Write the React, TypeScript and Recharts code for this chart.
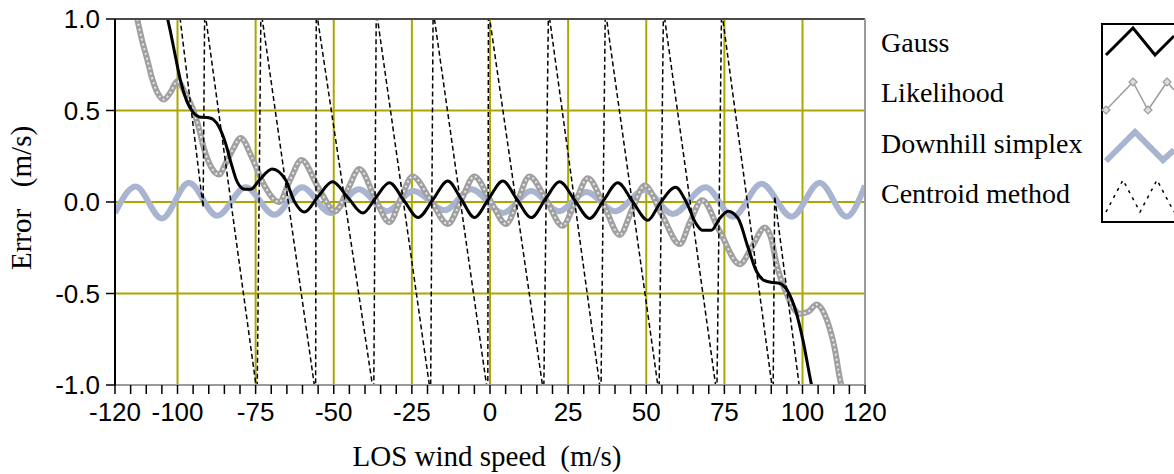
import { LineChart, Line, XAxis, YAxis, ReferenceLine } from "recharts";

// values (x = LOS wind speed m/s, y = error m/s)
const gaussX = [-104.0, -102.5, -100.6, -99.0, -97.0, -95.0, -93.0, -90.0, -88.5, -86.7, -84.6, -82.8, -80.9, -78.5, -76.5, -73.8, -69.7, -65.4, -62.5, -59.4, -55.0, -50.4, -45.5, -40.7, -36.5, -32.2, -27.6, -23.0, -18.2, -13.5, -9.2, -5.0, -0.5, 4.1, 8.6, 13.2, 17.7, 22.3, 27.1, 31.9, 36.4, 40.9, 45.7, 50.5, 54.3, 59.4, 62.8, 66.0, 68.0, 70.8, 73.5, 76.2, 79.4, 82.6, 85.3, 87.9, 90.5, 92.7, 95.4, 98.1, 100.2, 102.9, 104.0];
const gaussY = [1.06, 0.95, 0.79, 0.66, 0.55, 0.49, 0.465, 0.46, 0.45, 0.41, 0.32, 0.21, 0.11, 0.07, 0.07, 0.12, 0.18, 0.12, 0.0, -0.055, 0.03, 0.11, 0.025, -0.06, 0.025, 0.105, 0.01, -0.085, 0.015, 0.115, 0.015, -0.085, 0.015, 0.115, 0.015, -0.085, 0.015, 0.11, 0.01, -0.09, 0.01, 0.105, 0.0, -0.1, -0.01, 0.08, 0.0, -0.12, -0.155, -0.155, -0.09, -0.05, -0.09, -0.25, -0.38, -0.43, -0.44, -0.445, -0.49, -0.61, -0.76, -1.0, -1.08];

const likeX = [-114.0, -112.9, -111.3, -109.7, -108.2, -106.5, -104.4, -102.2, -100.1, -97.4, -94.7, -93.1, -91.5, -89.2, -86.7, -84.6, -82.2, -79.8, -76.1, -72.5, -67.5, -64.0, -60.3, -55.0, -49.5, -45.5, -41.8, -37.0, -32.2, -28.5, -24.8, -19.0, -13.5, -9.2, -5.0, 0.0, 5.2, 8.9, 12.6, 18.0, 23.2, 27.3, 31.3, 36.5, 41.5, 45.5, 49.5, 55.0, 60.7, 64.0, 67.9, 73.5, 79.9, 84.0, 87.9, 90.0, 91.7, 94.9, 99.1, 101.8, 104.5, 106.7, 108.5, 110.3, 111.9, 113.5];
const likeY = [1.08, 1.0, 0.88, 0.78, 0.68, 0.6, 0.56, 0.6, 0.66, 0.59, 0.49, 0.4, 0.29, 0.19, 0.15, 0.21, 0.29, 0.35, 0.24, 0.1, 0.0, 0.12, 0.23, 0.08, -0.05, 0.07, 0.18, 0.03, -0.11, 0.02, 0.14, 0.01, -0.12, 0.01, 0.14, 0.01, -0.12, 0.01, 0.14, 0.01, -0.13, 0.0, 0.13, -0.02, -0.18, -0.04, 0.09, -0.07, -0.23, -0.11, 0.01, -0.16, -0.34, -0.24, -0.14, -0.2, -0.34, -0.5, -0.61, -0.6, -0.56, -0.6, -0.68, -0.8, -0.96, -1.08];

const simplexX = [-120, -113.4, -105.0, -96.4, -87.3, -78.2, -69.0, -60.1, -51.0, -42.0, -33.0, -24.5, -14.5, -6.0, 4.1, 13.2, 22.0, 30.8, 40.0, 49.5, 58.5, 69.0, 77.8, 86.9, 96.5, 105.5, 114.1, 120];
const simplexY = [-0.06, 0.085, -0.09, 0.105, -0.075, 0.08, -0.07, 0.08, -0.06, 0.07, -0.05, 0.06, -0.045, 0.07, -0.06, 0.06, -0.05, 0.055, -0.05, 0.065, -0.065, 0.08, -0.08, 0.1, -0.08, 0.105, -0.08, 0.09];

const centroidX = [-99.5, -91.8, -91.3, -74.5, -73.3, -55.8, -55.6, -37.2, -36.4, -19.0, -18.2, -0.7, -0.5, 17.2, 18.7, 35.5, 36.9, 54.1, 55.5, 72.6, 74.1, 90.6, 91.1, 99.3];
const centroidY = [1.05, -0.03, 1.05, -1.05, 1.05, -1.05, 1.05, -1.05, 1.05, -1.05, 1.05, -1.05, 1.05, -1.05, 1.05, -1.05, 1.05, -1.05, 1.05, -1.05, 1.05, -1.05, 0.03, -1.05];

const seriesNames = ["Gauss", "Likelihood", "Downhill simplex", "Centroid method"];
const xTickLabels = [-120, -100, -75, -50, -25, 0, 25, 50, 75, 100, 120];
const xGrid = [-100, -75, -50, -25, 0, 25, 50, 75, 100];
const yTicks = [-1, -0.5, 0, 0.5, 1];
const yGrid = [-0.5, 0, 0.5];
const xMinorTicks = Array.from({ length: 49 }, (_, i) => -120 + i * 5);

const pairs = (xs: number[], ys: number[]) => xs.map((x, i) => ({ x, y: ys[i] }));

const gaussData = pairs(gaussX, gaussY);
const likeData = pairs(likeX, likeY);
const simplexData = pairs(simplexX, simplexY);
const centroidData = pairs(centroidX, centroidY);

const GRID = "#aaa800";
const BLUE = "#a9b4d0";
const tickFont = "'Liberation Sans', Arial, sans-serif";
const serif = "'Liberation Serif', 'Times New Roman', serif";

function XTick(props: any) {
  const { x, y, payload } = props;
  if (!xTickLabels.includes(payload.value)) return null;
  return (
    <text x={x} y={y} dy="0.71em" textAnchor="middle" fontFamily={tickFont} fontSize={26} fill="#000">
      {payload.value}
    </text>
  );
}

function YTick(props: any) {
  const { x, y, payload } = props;
  return (
    <text x={x} y={y} dy="0.36em" textAnchor="end" fontFamily={tickFont} fontSize={26} fill="#000">
      {payload.value.toFixed(1)}
    </text>
  );
}

function Legend() {
  const rows = [51.7, 101.7, 153.3, 203.3];
  return (
    <svg width={1174} height={474} style={{ position: "absolute", left: 0, top: 0, pointerEvents: "none" }}>
      {seriesNames.map((n, i) => (
        <text key={n} x={881} y={rows[i]} fontFamily={serif} fontSize={28} fill="#000">
          {n}
        </text>
      ))}
      <rect x={1102} y={24} width={90} height={198} fill="none" stroke="#000" strokeWidth={2} />
      <polyline points="1106,55 1133,28 1155,55 1174,36" fill="none" stroke="#000" strokeWidth={3} />
      <polyline points="1106,110 1133,82 1148,110 1167,82 1174,90" fill="none" stroke="#9c9c9c" strokeWidth={1.5} />
      {[
        [1106, 110],
        [1133, 82],
        [1148, 110],
        [1167, 82],
      ].map(([cx, cy], i) => (
        <path key={i} d={`M${cx} ${cy - 4}L${cx + 4} ${cy}L${cx} ${cy + 4}L${cx - 4} ${cy}Z`} fill="#ddd" stroke="#9c9c9c" strokeWidth={1.2} />
      ))}
      <polyline points="1106,161 1135,132 1163,160 1174,150" fill="none" stroke={BLUE} strokeWidth={6} />
      <polyline points="1106,212 1123,180 1140,212 1157,180 1174,212" fill="none" stroke="#000" strokeWidth={1.5} strokeDasharray="3 5" />
      <text x={487} y={466} textAnchor="middle" fontFamily={serif} fontSize={29} fill="#000" style={{ whiteSpace: "pre" }}>
        {"LOS wind speed  (m/s)"}
      </text>
      <text transform="translate(31,198) rotate(-90)" textAnchor="middle" fontFamily={serif} fontSize={29} fill="#000" style={{ whiteSpace: "pre" }}>
        {"Error   (m/s)"}
      </text>
    </svg>
  );
}

export default function App() {
  return (
    <div style={{ position: "relative", width: 1174, height: 474, background: "#fff" }}>
      <style>{"body{margin:0;background:#fff}"}</style>
      <LineChart width={1174} height={474} margin={{ top: 19, right: 309, bottom: 39, left: 0 }}>
        <XAxis
          type="number"
          dataKey="x"
          domain={[-120, 120]}
          allowDataOverflow
          ticks={xMinorTicks}
          interval={0}
          tickSize={9}
          tickMargin={9}
          height={50}
          tick={<XTick />}
          tickLine={{ stroke: "#000", strokeWidth: 1.5 }}
          axisLine={{ stroke: "#9a9a9a", strokeWidth: 2 }}
        />
        <YAxis
          type="number"
          domain={[-1, 1]}
          allowDataOverflow
          ticks={yTicks}
          interval={0}
          width={115}
          tickSize={9}
          tickMargin={6}
          tick={<YTick />}
          tickLine={{ stroke: "#000", strokeWidth: 1.5 }}
          axisLine={{ stroke: "#000", strokeWidth: 2 }}
        />
        {xGrid.map((v) => (
          <ReferenceLine key={"gx" + v} x={v} stroke={GRID} strokeWidth={2} />
        ))}
        {yGrid.map((v) => (
          <ReferenceLine key={"gy" + v} y={v} stroke={GRID} strokeWidth={2} />
        ))}
        <Line data={simplexData} dataKey="y" type="monotone" stroke={BLUE} strokeWidth={6} dot={false} activeDot={false} isAnimationActive={false} />
        <Line data={likeData} dataKey="y" type="monotone" stroke="#a0a0a0" strokeWidth={6} dot={false} activeDot={false} isAnimationActive={false} />
        <Line data={likeData} dataKey="y" type="monotone" stroke="#e8e8e8" strokeWidth={2} strokeDasharray="2 3" dot={false} activeDot={false} isAnimationActive={false} />
        <Line data={centroidData} dataKey="y" type="linear" stroke="#000" strokeWidth={1.5} strokeDasharray="5 3" dot={false} activeDot={false} isAnimationActive={false} />
        <Line data={gaussData} dataKey="y" type="monotone" stroke="#000" strokeWidth={3} dot={false} activeDot={false} isAnimationActive={false} />
        <ReferenceLine y={1} stroke="#4a4a4a" strokeWidth={2} />
        <ReferenceLine x={120} stroke="#9a9a9a" strokeWidth={2} />
      </LineChart>
      <Legend />
    </div>
  );
}
